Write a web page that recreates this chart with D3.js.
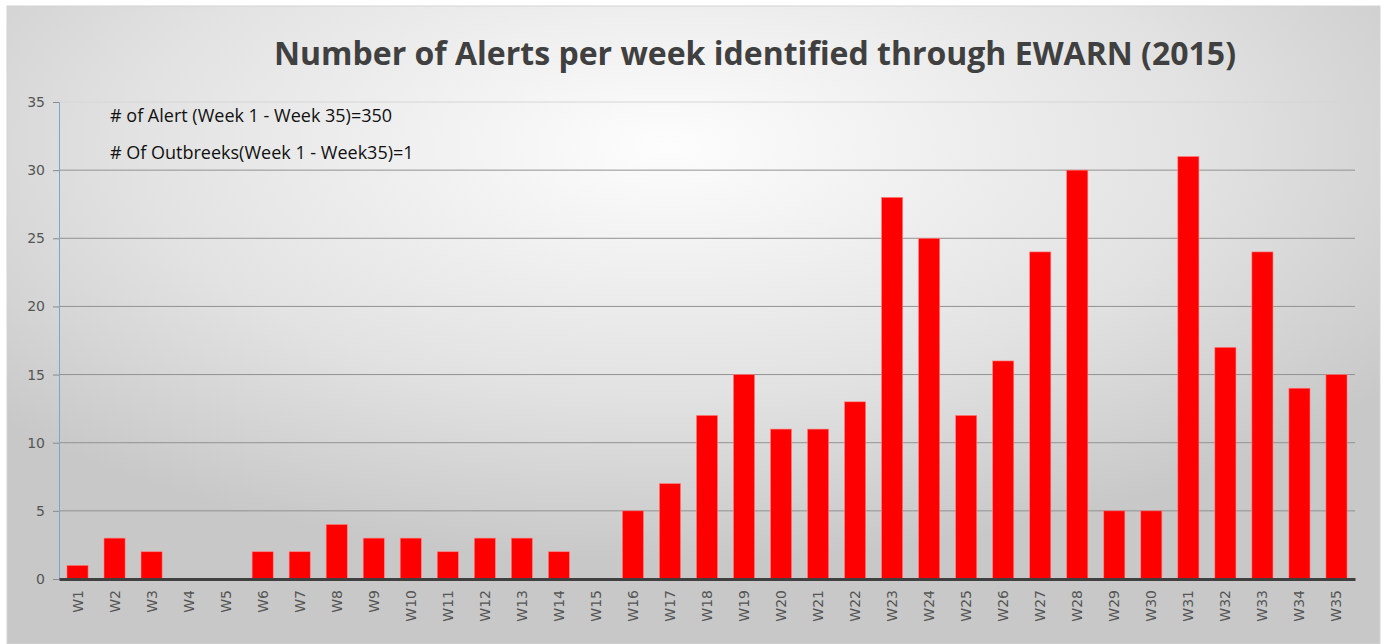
<!doctype html>
<html lang="en">
<head>
  <meta charset="utf-8">
  <title>EWARN alerts 2015</title>
  <style>
  body { margin: 0; background: #fff; }
  svg { display: block; }
  .title { font-family: "Open Sans", sans-serif; font-weight: bold; fill: #404040; }
  .note { font-family: "Open Sans", sans-serif; fill: #111; }
  .tick text { font-family: "DejaVu Sans", sans-serif; fill: #555; }
  </style>
</head>
<body>
  <div id="chart"></div>
  <script src="https://cdn.jsdelivr.net/npm/d3@7"></script>
  <script>
    var weeks = ["W1","W2","W3","W4","W5","W6","W7","W8","W9","W10","W11","W12","W13","W14","W15","W16","W17","W18",
                 "W19","W20","W21","W22","W23","W24","W25","W26","W27","W28","W29","W30","W31","W32","W33","W34","W35"];
    var alerts = [1,3,2,0,0,2,2,4,3,3,2,3,3,2,0,5,7,12,15,11,11,13,28,25,12,16,24,30,5,5,31,17,24,14,15];
    var yTicks = [0,5,10,15,20,25,30,35];
    var titleText = "Number of Alerts per week identified through EWARN (2015)";
    var notes = ["# of Alert (Week 1 - Week 35)=350", "# Of Outbreeks(Week 1 - Week35)=1"];

    (function() {
      var width = 1385, height = 644;
      var plotLeft = 59, plotRight = 1355, plotTop = 102, plotBottom = 579;

      var svg = d3.select("#chart").append("svg")
          .attr("width", width)
          .attr("height", height);

      // background like the excel chart area
      var defs = svg.append("defs");
      var grad = defs.append("radialGradient")
          .attr("id", "bg")
          .attr("cx", "48%").attr("cy", "22%").attr("r", "65%");
      grad.append("stop").attr("offset", "0%").attr("stop-color", "#fdfdfd");
      grad.append("stop").attr("offset", "60%").attr("stop-color", "#e2e2e2");
      grad.append("stop").attr("offset", "100%").attr("stop-color", "#c8c8c8");

      svg.append("rect")
          .attr("x", 7).attr("y", 6)
          .attr("width", width - 12).attr("height", height - 6)
          .attr("fill", "url(#bg)")
          .attr("stroke", "#d4d4d4");

      var x = d3.scaleBand().domain(weeks).range([plotLeft, plotRight]).paddingInner(0.43).paddingOuter(0.215);
      var y = d3.scaleLinear().domain([0, 35]).range([plotBottom, plotTop]);

      // gridlines
      svg.append("g")
          .selectAll("line")
          .data(yTicks.filter(function(d) { return d > 0; }))
          .join("line")
          .attr("x1", plotLeft).attr("x2", plotRight)
          .attr("y1", function(d) { return y(d); })
          .attr("y2", function(d) { return y(d); })
          .attr("stroke", function(d) { return d == 35 ? "#d6d6d6" : "#929292"; })
          .attr("stroke-width", 1);

      // y axis
      var yAxis = svg.append("g")
          .attr("transform", "translate(" + plotLeft + ",0)")
          .call(d3.axisLeft(y).tickValues(yTicks).tickSize(6).tickPadding(8));
      yAxis.attr("font-size", 14);
      yAxis.select(".domain").attr("stroke", "#7fa3cf");
      yAxis.selectAll(".tick line").attr("stroke", "#8a8a8a");

      // bars
      svg.append("g")
          .selectAll("rect")
          .data(alerts)
          .join("rect")
          .attr("x", function(d, i) { return x(weeks[i]); })
          .attr("y", function(d) { return y(d); })
          .attr("width", x.bandwidth())
          .attr("height", function(d) { return plotBottom - y(d); })
          .attr("fill", "#ff0000")
          .attr("stroke", "#ff8080")
          .attr("stroke-width", 0.6);

      // x axis
      var xAxis = svg.append("g")
          .attr("transform", "translate(0," + plotBottom + ")")
          .call(d3.axisBottom(x).tickSize(0).tickPadding(0));
      xAxis.attr("font-size", 14);
      xAxis.select(".domain").attr("stroke", "#404040").attr("stroke-width", 3);
      xAxis.selectAll(".tick text")
          .attr("text-anchor", "end")
          .attr("transform", "translate(5,11) rotate(-90)")
          .attr("dy", 0)
          .attr("y", 0);

      svg.append("text")
          .attr("class", "title")
          .attr("x", 755).attr("y", 65)
          .attr("text-anchor", "middle")
          .attr("font-size", 32)
          .text(titleText);

      svg.append("g").selectAll("text")
          .data(notes)
          .join("text")
          .attr("class", "note")
          .attr("x", 110)
          .attr("y", function(d, i) { return 122 + i * 37; })
          .attr("font-size", 18)
          .text(function(d) { return d; });
    })();
  </script>
</body>
</html>
